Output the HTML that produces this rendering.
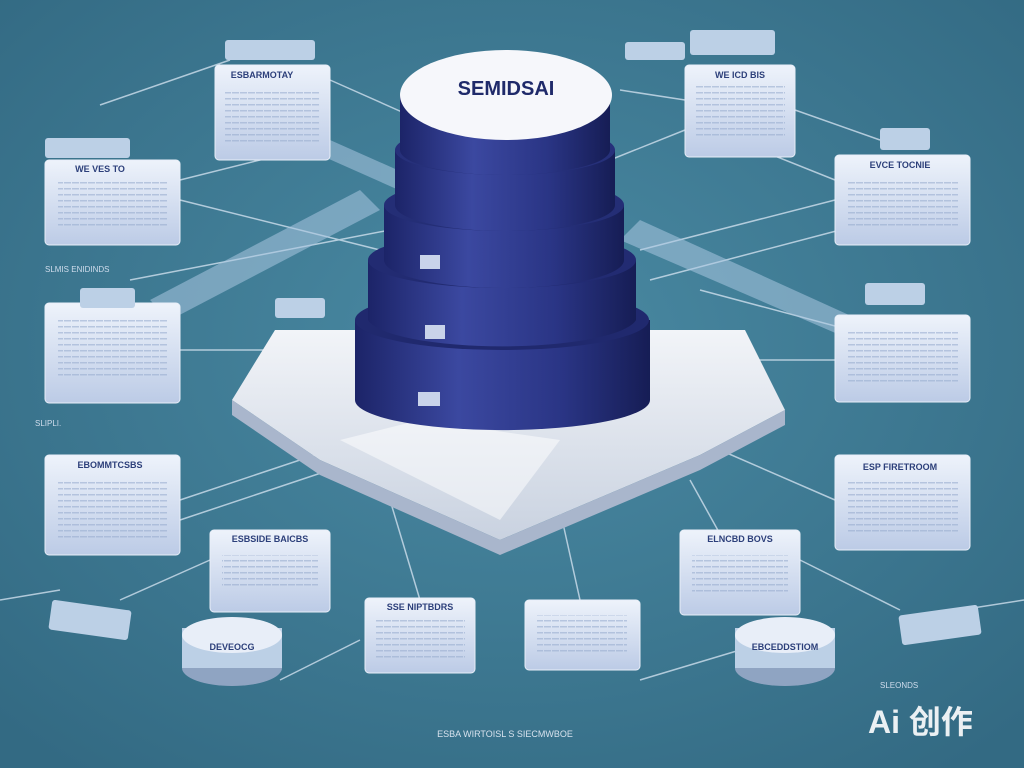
<!DOCTYPE html>
<html><head><meta charset="utf-8"><style>
html,body{margin:0;padding:0;background:#3d7791;}
svg{display:block}
text{font-family:"Liberation Sans","Noto Sans CJK SC",sans-serif}
</style></head><body>
<svg width="1024" height="768" viewBox="0 0 1024 768" xmlns="http://www.w3.org/2000/svg">
<defs>
<radialGradient id="bg" cx="50%" cy="45%" r="70%"><stop offset="0" stop-color="#4a8aa3"/><stop offset="1" stop-color="#336a83"/></radialGradient>
<linearGradient id="card" x1="0" y1="0" x2="0" y2="1"><stop offset="0" stop-color="#eef3fb"/><stop offset="1" stop-color="#bccbe6"/></linearGradient>
<linearGradient id="cyl" x1="0" y1="0" x2="1" y2="0"><stop offset="0" stop-color="#1c2468"/><stop offset="0.35" stop-color="#3b48a0"/><stop offset="0.7" stop-color="#2a3585"/><stop offset="1" stop-color="#161d55"/></linearGradient>
<linearGradient id="slab" x1="0" y1="0" x2="0" y2="1"><stop offset="0" stop-color="#f2f4f8"/><stop offset="1" stop-color="#c9d2e0"/></linearGradient>
<pattern id="lines" width="8" height="6" patternUnits="userSpaceOnUse"><rect x="0" y="2" width="7" height="1.5" fill="#9aaed0"/></pattern>
</defs>
<rect width="1024" height="768" fill="url(#bg)"/>
<g stroke="#cfe0ee" stroke-width="1.5" fill="none" opacity="0.8">
<path d="M100 105 L230 60 M330 80 L420 120 M180 200 L380 250 M180 180 L300 150 M130 280 L390 230 M180 350 L280 350 M180 500 L360 440 M180 520 L330 470 M210 560 L120 600 M0 600 L60 590 M270 610 L330 560 M420 600 L390 500 M580 600 L560 510 M740 570 L690 480 M800 560 L900 610 M1024 600 L960 610 M835 500 L720 450 M835 360 L740 360 M835 200 L640 250 M835 180 L760 150 M795 110 L880 140 M685 100 L620 90 M610 160 L685 130 M650 280 L840 230 M700 290 L850 330 M280 680 L360 640 M640 680 L740 650"/>
</g>
<g fill="#a9c6e0" opacity="0.55">
<polygon points="150,300 360,190 380,210 170,320"/>
<polygon points="640,220 860,320 840,335 620,240"/>
<polygon points="330,140 420,180 410,195 320,155"/>
</g>
<polygon points="232,400 275,330 745,330 785,410 700,455 500,540 320,460" fill="url(#slab)"/>
<polygon points="232,400 320,460 500,540 700,455 785,410 785,425 700,470 500,555 320,475 232,415" fill="#a9b6cc"/>
<polygon points="340,440 420,420 560,440 500,520" fill="#ffffff" opacity="0.5"/>
<g>
<path d="M355 320 L355 400 A147 30 0 0 0 650 400 L650 320 Z" fill="url(#cyl)"/>
<ellipse cx="502" cy="320" rx="147" ry="30" fill="#20296e"/>
<path d="M368 260 L368 320 A135 30 0 0 0 636 320 L636 260 Z" fill="url(#cyl)"/>
<ellipse cx="502" cy="260" rx="134" ry="28" fill="#222b72"/>
<path d="M384 205 L384 260 A120 28 0 0 0 624 260 L624 205 Z" fill="url(#cyl)"/>
<ellipse cx="504" cy="205" rx="120" ry="26" fill="#242e76"/>
<path d="M395 150 L395 205 A110 26 0 0 0 615 205 L615 150 Z" fill="url(#cyl)"/>
<ellipse cx="505" cy="150" rx="110" ry="25" fill="#26307a"/>
<path d="M400 95 L400 150 A105 25 0 0 0 610 150 L610 95 Z" fill="url(#cyl)"/>
<ellipse cx="506" cy="95" rx="106" ry="45" fill="#f6f7fb"/>
<text x="506" y="95" font-size="20" fill="#1f2a6a" text-anchor="middle" font-weight="bold">SEMIDSAI</text>
<rect x="420" y="255" width="20" height="14" fill="#c9d3ea"/>
<rect x="425" y="325" width="20" height="14" fill="#c9d3ea"/>
<rect x="418" y="392" width="22" height="14" fill="#c9d3ea"/>
</g>
<g fill="url(#card)" stroke="#e8eef8" stroke-width="1">
<rect x="45" y="160" width="135" height="85" rx="4"/>
<rect x="45" y="303" width="135" height="100" rx="4"/>
<rect x="45" y="455" width="135" height="100" rx="4"/>
<rect x="215" y="65" width="115" height="95" rx="4"/>
<rect x="685" y="65" width="110" height="92" rx="4"/>
<rect x="835" y="155" width="135" height="90" rx="4"/>
<rect x="835" y="315" width="135" height="87" rx="4"/>
<rect x="835" y="455" width="135" height="95" rx="4"/>
<rect x="210" y="530" width="120" height="82" rx="4"/>
<rect x="365" y="598" width="110" height="75" rx="4"/>
<rect x="525" y="600" width="115" height="70" rx="4"/>
<rect x="680" y="530" width="120" height="85" rx="4"/>
</g>
<g fill="url(#lines)" opacity="0.6">
<rect x="58" y="180" width="110" height="50"/>
<rect x="58" y="320" width="110" height="60"/>
<rect x="58" y="478" width="110" height="60"/>
<rect x="225" y="88" width="95" height="55"/>
<rect x="695" y="85" width="90" height="55"/>
<rect x="848" y="178" width="110" height="50"/>
<rect x="848" y="330" width="110" height="55"/>
<rect x="848" y="478" width="110" height="55"/>
<rect x="222" y="555" width="96" height="35"/>
<rect x="375" y="620" width="90" height="40"/>
<rect x="537" y="615" width="90" height="40"/>
<rect x="692" y="555" width="96" height="40"/>
</g>
<g fill="#bcd0e6">
<ellipse cx="232" cy="668" rx="50" ry="18" fill="#8fa4c2"/><rect x="182" y="628" width="100" height="40"/><ellipse cx="232" cy="635" rx="50" ry="18" fill="#e8eef8"/>
<ellipse cx="785" cy="668" rx="50" ry="18" fill="#8fa4c2"/><rect x="735" y="628" width="100" height="40"/><ellipse cx="785" cy="635" rx="50" ry="18" fill="#e8eef8"/>
<rect x="50" y="605" width="80" height="30" rx="3" transform="rotate(8 90 620)"/>
<rect x="900" y="610" width="80" height="30" rx="3" transform="rotate(-8 940 625)"/>
<rect x="80" y="288" width="55" height="20" rx="3"/>
<rect x="865" y="283" width="60" height="22" rx="3"/>
<rect x="275" y="298" width="50" height="20" rx="3"/>
<rect x="880" y="128" width="50" height="22" rx="3"/>
<rect x="45" y="138" width="85" height="20" rx="3"/>
<rect x="225" y="40" width="90" height="20" rx="3"/>
<rect x="690" y="30" width="85" height="25" rx="3"/>
<rect x="625" y="42" width="60" height="18" rx="3"/>
</g>
<g font-size="9" fill="#2c3f7a" font-weight="bold" text-anchor="middle">
<text x="262" y="78">ESBARMOTAY</text><text x="740" y="78">WE ICD BIS</text>
<text x="100" y="172">WE VES TO</text><text x="900" y="168">EVCE TOCNIE</text>
<text x="110" y="468">EBOMMTCSBS</text><text x="900" y="470">ESP FIRETROOM</text>
<text x="270" y="542">ESBSIDE BAICBS</text><text x="740" y="542">ELNCBD BOVS</text>
<text x="420" y="610">SSE NIPTBDRS</text><text x="232" y="650">DEVEOCG</text><text x="785" y="650">EBCEDDSTIOM</text>
</g>
<g font-size="8" fill="#cfdcec">
<text x="45" y="272">SLMIS  ENIDINDS</text><text x="35" y="426">SLIPLI.</text><text x="880" y="688">SLEONDS</text>
</g>
<text x="505" y="737" font-size="9" fill="#d7e2ee" text-anchor="middle">ESBA WIRTOISL S SIECMWBOE</text>
<text x="868" y="733" font-size="32" fill="#ffffff" opacity="0.9" font-weight="bold">Ai 创作</text>
</svg>
</body></html>
